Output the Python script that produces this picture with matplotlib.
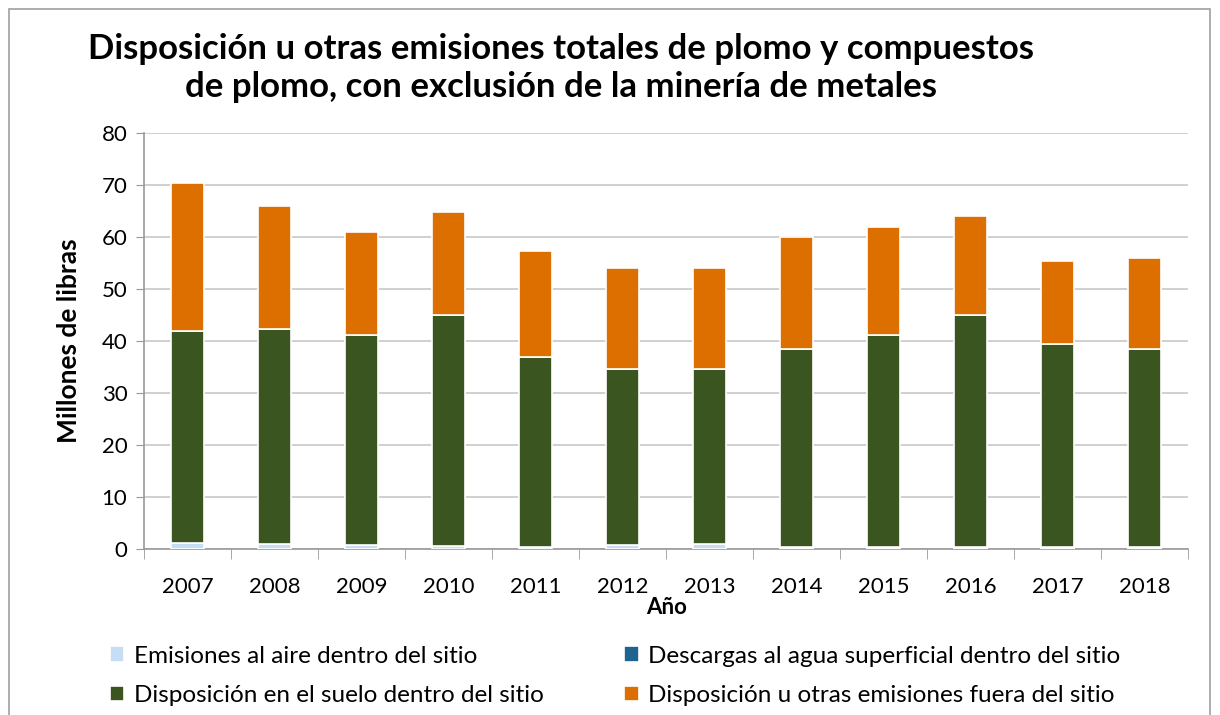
import matplotlib.pyplot as plt
import numpy as np
from matplotlib.patches import Rectangle

plt.rcParams["font.family"] = ["Lato", "DejaVu Sans"]

years = ["2007", "2008", "2009", "2010", "2011", "2012",
         "2013", "2014", "2015", "2016", "2017", "2018"]
aire = [1.1, 0.9, 0.7, 0.6, 0.4, 0.8, 0.9, 0.3, 0.3, 0.3, 0.3, 0.3]
agua = [0.05, 0.05, 0.05, 0.05, 0.05, 0.05, 0.05, 0.05, 0.05, 0.05, 0.05, 0.05]
suelo = [40.8, 41.4, 40.5, 44.4, 36.5, 33.8, 33.7, 38.2, 40.9, 44.7, 39.1, 38.2]
fuera = [28.5, 23.7, 19.8, 19.8, 20.4, 19.3, 19.4, 21.5, 20.7, 19.0, 16.0, 17.5]

labels = ["Emisiones al aire dentro del sitio",
          "Descargas al agua superficial dentro del sitio",
          "Disposición en el suelo dentro del sitio",
          "Disposición u otras emisiones fuera del sitio"]
colors = ["#c6def5", "#1f6391", "#3a5520", "#dd6e00"]

fig = plt.figure(figsize=(12.2, 7.15), dpi=100)
ax = fig.add_axes([0.118, 0.232, 0.856, 0.582])

x = np.arange(len(years))
bottom = np.zeros(len(years))
handles = []
for vals, lab, col in zip([aire, agua, suelo, fuera], labels, colors):
    b = ax.bar(x, vals, 0.38, bottom=bottom, color=col, edgecolor="white",
               linewidth=1.2, label=lab, zorder=3)
    handles.append(b)
    bottom += np.array(vals)

ax.set_xlim(-0.5, len(years) - 0.5)
ax.set_ylim(0, 80)
ax.set_yticks(range(0, 81, 10))
ax.set_xticks(x)
ax.set_xticklabels(years, fontsize=16)
ax.tick_params(axis="y", labelsize=16, length=6, color="#999999", pad=6)
ax.set_xticks(np.arange(-0.5, len(years)), minor=True)
ax.tick_params(axis="x", which="major", length=0, pad=20)
ax.tick_params(axis="x", which="minor", length=7, color="#999999")
ax.grid(axis="y", color="#c8c8c8", linewidth=1.2, zorder=0)
for s in ["top", "right"]:
    ax.spines[s].set_visible(False)
for s in ["left", "bottom"]:
    ax.spines[s].set_color("#999999")
    ax.spines[s].set_linewidth(1.2)

ax.set_ylabel("Millones de libras", fontsize=19, fontweight="bold", labelpad=15)
ax.set_xlabel("Año", fontsize=16, fontweight="bold", labelpad=0)

fig.text(0.46, 0.905, "Disposición u otras emisiones totales de plomo y compuestos\n"
         "de plomo, con exclusión de la minería de metales",
         ha="center", va="center", fontsize=25, fontweight="bold", linespacing=1.25)

order = [0, 2, 1, 3]
fig.legend(handles=[handles[i] for i in order], labels=[labels[i] for i in order],
           loc="lower left", bbox_to_anchor=(0.072, -0.018), ncol=2, frameon=False,
           fontsize=17.5, handlelength=0.6, handleheight=0.6, handletextpad=0.4,
           columnspacing=3.3, labelspacing=0.75)

fig.patches.append(Rectangle((0.007, -0.01), 0.985, 0.998, transform=fig.transFigure,
                             fill=False, edgecolor="#a0a0a0", linewidth=1.2))

fig.savefig("out.png", dpi=100)
